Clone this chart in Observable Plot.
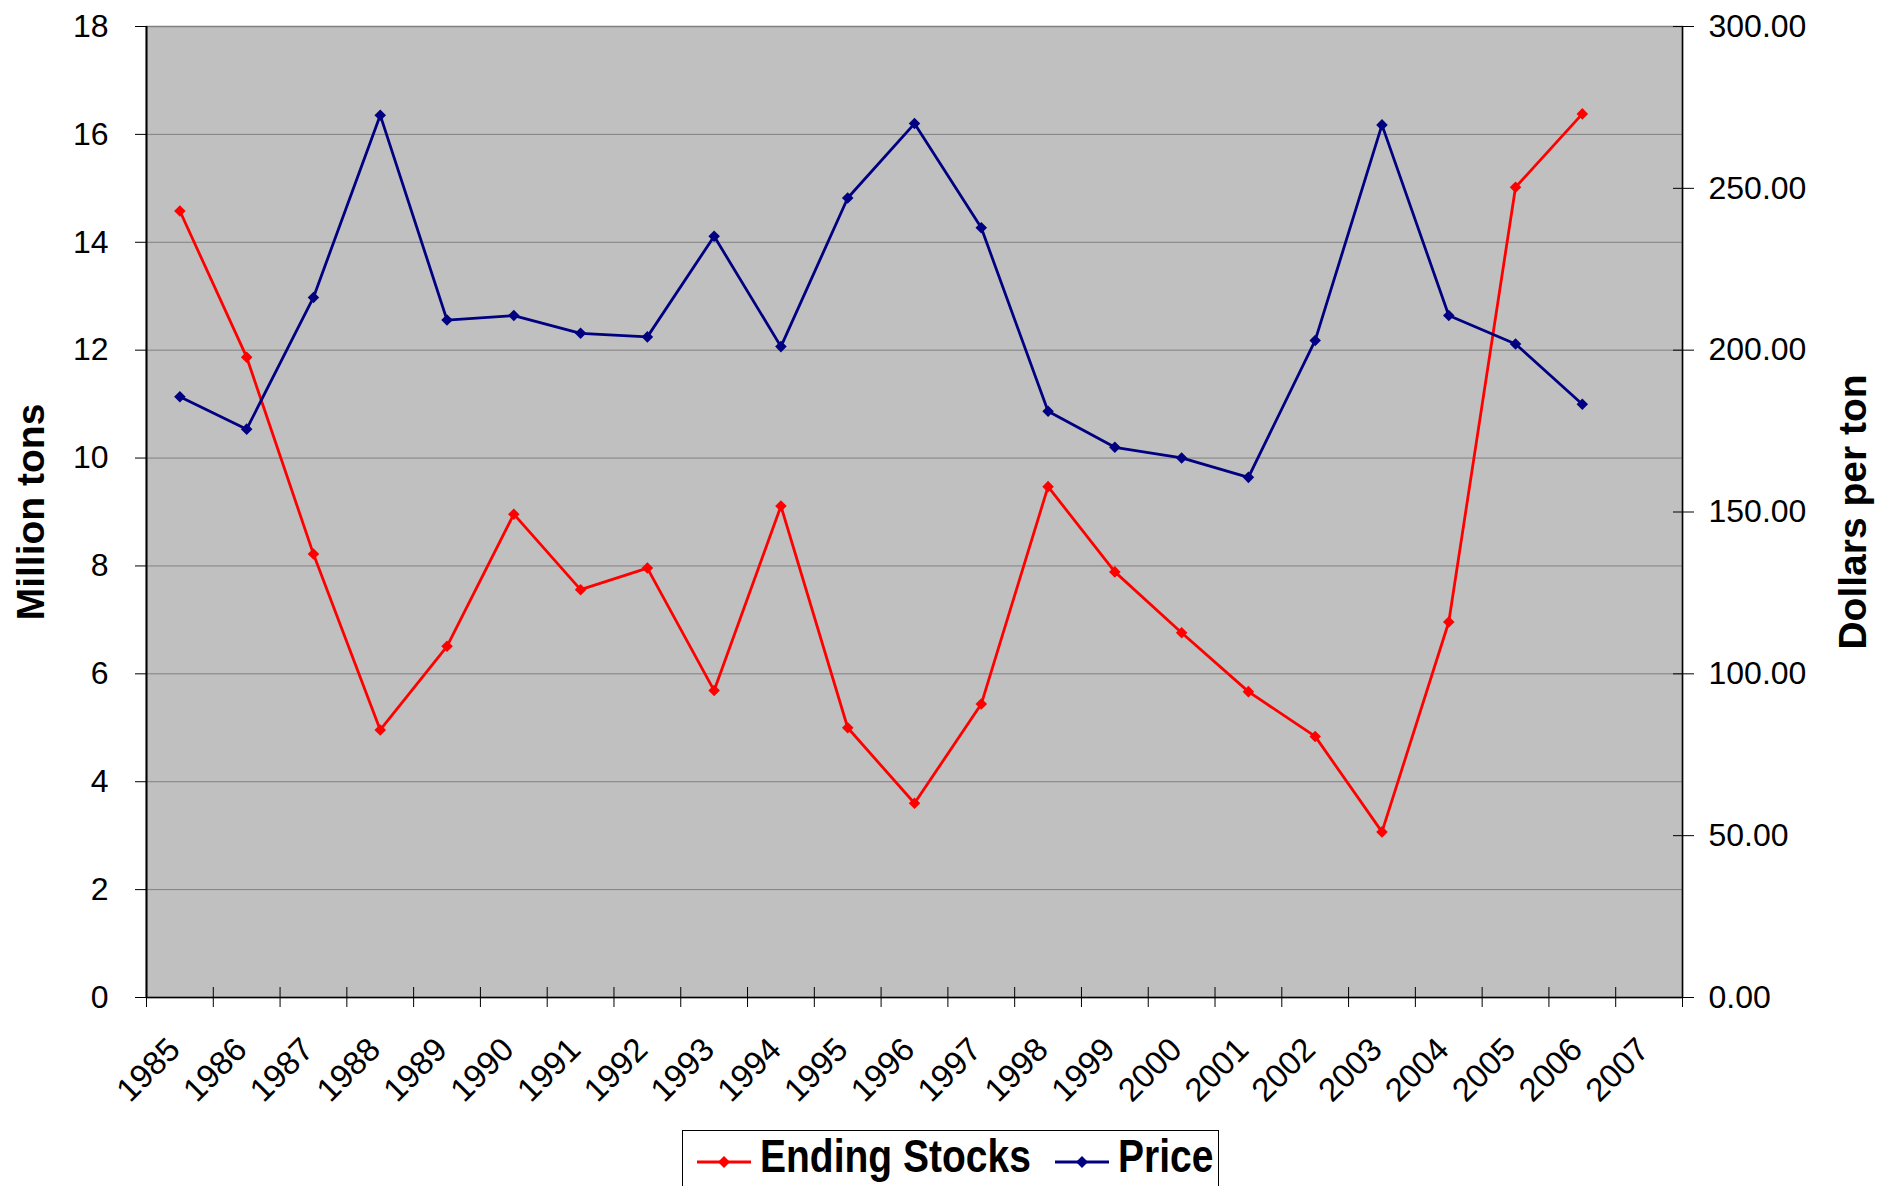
<!DOCTYPE html>
<html>
<head>
<meta charset="utf-8">
<script src="https://cdn.jsdelivr.net/npm/d3@7"></script>
<script src="https://cdn.jsdelivr.net/npm/@observablehq/plot@0.6"></script>
<style>
  html, body { margin: 0; padding: 0; background: #fff; }
  body { width: 1879px; overflow: hidden; font-family: "Liberation Sans", Arial, sans-serif; }
  #legend {
    position: relative; margin-left: 682px; width: 537px; height: 80px;
    border: 1px solid #000; box-sizing: border-box; background: #fff;
  }
  #legend .sw { position: absolute; top: 21px; }
  #legend .lt {
    position: absolute; top: 8px; font-size: 39px; font-weight: bold; line-height: 1;
    transform: scaleY(1.18); transform-origin: 0 80%; white-space: nowrap; color: #000;
  }
</style>
</head>
<body>
<div id="chart"></div>
<div id="legend">
  <svg class="sw" style="left:14px" width="54" height="20"><line x1="0" y1="10" x2="54" y2="10" stroke="#FF0000" stroke-width="3"/><polygon points="27,4 33,10 27,16 21,10" fill="#FF0000"/></svg>
  <span class="lt" style="left:77px">Ending Stocks</span>
  <svg class="sw" style="left:372px" width="54" height="20"><line x1="0" y1="10" x2="54" y2="10" stroke="#000080" stroke-width="3"/><polygon points="27,4 33,10 27,16 21,10" fill="#000080"/></svg>
  <span class="lt" style="left:435px">Price</span>
</div>
<script>
// Categories (crop years) and series values
const years = [1985,1986,1987,1988,1989,1990,1991,1992,1993,1994,1995,1996,1997,1998,1999,2000,2001,2002,2003,2004,2005,2006];
const endingStocks = [14.58,11.87,8.22,4.96,6.51,8.96,7.56,7.96,5.69,9.11,5.00,3.60,5.44,9.47,7.89,6.76,5.67,4.84,3.07,6.96,15.02,16.38];
const price = [185.6,175.6,216.3,272.6,209.3,210.7,205.2,204.1,235.2,201.1,247.0,270.0,237.8,181.1,170.0,166.7,160.7,203.0,269.6,210.7,201.9,183.3];
// Axis tick labels
const categoryLabels = [1985,1986,1987,1988,1989,1990,1991,1992,1993,1994,1995,1996,1997,1998,1999,2000,2001,2002,2003,2004,2005,2006,2007];
const leftTicks = [0,2,4,6,8,10,12,14,16,18];
const rightTicks = [0,50,100,150,200,250,300];
const leftMax = 18, rightMax = 300;
const toLeft = p => p * leftMax / rightMax;

const data = years.map((y, i) => ({year: y, stocks: endingStocks[i], price: price[i]}));
const catEdges = categoryLabels.concat([categoryLabels[categoryLabels.length - 1] + 1]);

const font = "Liberation Sans, Arial, sans-serif";

const chart = Plot.plot({
  width: 1879,
  height: 1130,
  marginLeft: 146,
  marginRight: 197,
  marginTop: 26,
  marginBottom: 133,
  style: {fontFamily: font, fontSize: "32px", background: "#fff", overflow: "visible"},
  x: {domain: [catEdges[0], catEdges[catEdges.length - 1]], axis: null},
  y: {domain: [0, leftMax], axis: null},
  marks: [
    Plot.frame({fill: "#C0C0C0", stroke: "#808080", strokeWidth: 1.5}),
    Plot.ruleY(leftTicks.filter(d => d > 0 && d < leftMax), {stroke: "#808080", strokeWidth: 1}),
    Plot.ruleY([0], {stroke: "#000", strokeWidth: 1.5}),
    Plot.ruleX([catEdges[0]], {stroke: "#000", strokeWidth: 2}),
    Plot.ruleX([catEdges[catEdges.length - 1]], {stroke: "#000", strokeWidth: 1.5}),
    // left axis
    Plot.axisY(leftTicks, {anchor: "left", label: null, tickSize: 11, tickPadding: 27, fontSize: 32, tickFormat: d => String(d), stroke: "#000", fill: "#000"}),
    // right axis
    Plot.axisY(rightTicks.map(toLeft), {anchor: "right", label: null, tickSize: 21, dx: -10, tickPadding: 15, fontSize: 32, stroke: "#000", fill: "#000",
      tickFormat: d => (d * rightMax / leftMax).toFixed(2)}),
    // x ticks (crossing)
    Plot.axisX(catEdges, {anchor: "bottom", label: null, tickSize: 20, dy: -10, stroke: "#000", fill: "none"}),
    // x labels rotated
    Plot.text(categoryLabels, {x: d => d + 0.5, frameAnchor: "bottom", dy: 54, dx: 2, rotate: -45,
      textAnchor: "end", lineAnchor: "bottom", text: d => String(d), fontSize: 33, fill: "#000"}),
    // axis titles
    Plot.text(["Million tons"], {frameAnchor: "left", dx: -115, rotate: -90, textAnchor: "middle", fontSize: 39, fontWeight: "bold", fill: "#000"}),
    Plot.text(["Dollars per ton"], {frameAnchor: "right", dx: 171, rotate: -90, textAnchor: "middle", fontSize: 39, fontWeight: "bold", fill: "#000"}),
    // series
    Plot.line(data, {x: d => d.year + 0.5, y: "stocks", stroke: "#FF0000", strokeWidth: 2.8}),
    Plot.dot(data, {x: d => d.year + 0.5, y: "stocks", symbol: "diamond2", r: 5.2, fill: "#FF0000", stroke: null}),
    Plot.line(data, {x: d => d.year + 0.5, y: d => toLeft(d.price), stroke: "#000080", strokeWidth: 2.8}),
    Plot.dot(data, {x: d => d.year + 0.5, y: d => toLeft(d.price), symbol: "diamond2", r: 5.2, fill: "#000080", stroke: null})
  ]
});
document.getElementById("chart").appendChild(chart);
</script>
</body>
</html>
